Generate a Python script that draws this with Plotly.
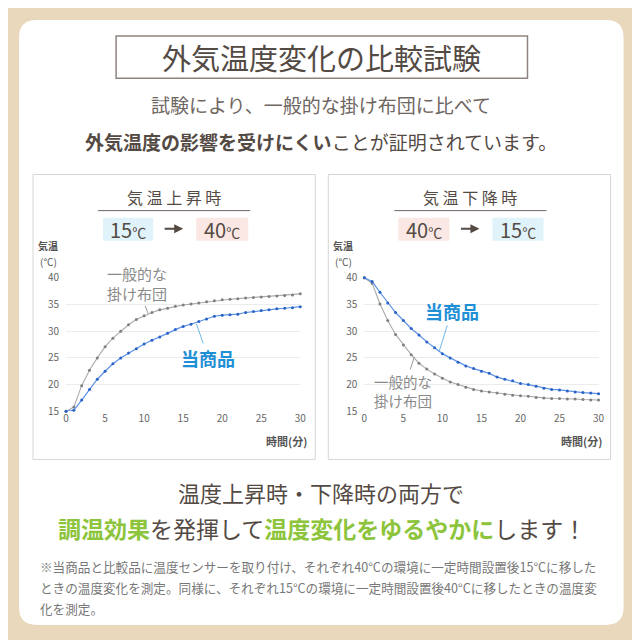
import plotly.graph_objects as go

W, H = 640, 640

# ── data ───────────────────────────────────────────────────────
minutes = list(range(31))

rise_normal = [15.0, 15.8, 19.8, 22.7, 25.0, 27.1, 28.7, 30.0, 31.2, 32.2,
               32.9, 33.5, 34.0, 34.3, 34.7, 34.9, 35.1, 35.3, 35.5, 35.7,
               35.9, 36.0, 36.1, 36.2, 36.3, 36.4, 36.5, 36.6, 36.7, 36.8, 37.0]
rise_ours = [15.0, 15.2, 17.1, 19.1, 21.0, 22.5, 23.9, 25.0, 25.9, 26.7,
             27.6, 28.3, 28.9, 29.6, 30.3, 30.9, 31.3, 31.8, 32.3, 32.8,
             33.0, 33.1, 33.2, 33.5, 33.7, 33.9, 34.0, 34.2, 34.3, 34.4, 34.6]

fall_normal = [40.0, 39.0, 35.1, 32.0, 29.4, 27.4, 25.6, 24.0, 22.9, 22.0,
               21.2, 20.5, 20.0, 19.5, 19.1, 18.8, 18.6, 18.4, 18.2, 18.0,
               17.9, 17.8, 17.6, 17.5, 17.4, 17.4, 17.3, 17.3, 17.2, 17.1, 17.1]
fall_ours = [40.0, 39.3, 37.3, 35.3, 33.5, 32.0, 30.5, 29.3, 28.0, 26.9,
             25.8, 25.0, 24.2, 23.5, 23.0, 22.5, 22.1, 21.4, 21.0, 20.7,
             20.2, 20.0, 19.7, 19.3, 19.1, 19.0, 18.8, 18.6, 18.5, 18.4, 18.3]

y_ticks = [15, 20, 25, 30, 35, 40]
x_ticks = [0, 5, 10, 15, 20, 25, 30]

NAME_OURS = "当商品"
NAME_NORMAL = "一般的な<br>掛け布団"

# ── colours / fonts ───────────────────────────────────────────
BG = "#EAD8BD"
TXT = "#544a44"
TXT_LIGHT = "#6e6661"
GREEN = "#8cc43c"
BLUE_TXT = "#1f8fd6"
BLUE_LINE = "#5d92e6"
BLUE_DOT = "#2a62c6"
GRAY_LINE = "#ababab"
GRAY_DOT = "#808080"
FONT = "Noto Sans CJK JP"


# page pixel -> paper coords (small correction for how the page is framed)
def px(x):
    return ((x - 10) / 0.985) / W


def py(y):
    return 1 - ((y - 16) / 0.975) / H


fig = go.Figure()

# ── traces ────────────────────────────────────────────────────
for xa, ya, normal, ours in [("x", "y", rise_normal, rise_ours),
                              ("x2", "y2", fall_normal, fall_ours)]:
    fig.add_trace(go.Scatter(
        x=minutes, y=normal, xaxis=xa, yaxis=ya, mode="lines+markers",
        line=dict(color=GRAY_LINE, width=1.1),
        marker=dict(color=GRAY_DOT, size=3), cliponaxis=False,
        showlegend=False, hoverinfo="skip"))
    fig.add_trace(go.Scatter(
        x=minutes, y=ours, xaxis=xa, yaxis=ya, mode="lines+markers",
        line=dict(color=BLUE_LINE, width=1.2),
        marker=dict(color=BLUE_DOT, size=3), cliponaxis=False,
        showlegend=False, hoverinfo="skip"))

axis_common = dict(showline=False, zeroline=False, ticks="",
                   tickfont=dict(family=FONT, size=10, color="#666"))
fig.update_layout(
    xaxis=dict(domain=[px(65), px(299)], range=[0, 30], tickvals=x_ticks,
               showgrid=False, anchor="y", **axis_common),
    yaxis=dict(domain=[py(410), py(277)], range=[15, 40], tickvals=y_ticks,
               showgrid=True, gridcolor="#ececec", gridwidth=1, anchor="x",
               ticklabelstandoff=6, **axis_common),
    xaxis2=dict(domain=[px(363), px(597)], range=[0, 30], tickvals=x_ticks,
                showgrid=False, anchor="y2", **axis_common),
    yaxis2=dict(domain=[py(410), py(277)], range=[15, 40], tickvals=y_ticks,
                showgrid=True, gridcolor="#ececec", gridwidth=1, anchor="x2",
                ticklabelstandoff=6, **axis_common),
)

shapes = []
ann = []

# white card with rounded corners
x0, x1, y0, y1 = px(18), px(622), py(20), py(623)
rx, ry = 18 / W, 18 / H
card = (f"M {x0 + rx},{y0} L {x1 - rx},{y0} Q {x1},{y0} {x1},{y0 - ry} "
        f"L {x1},{y1 + ry} Q {x1},{y1} {x1 - rx},{y1} L {x0 + rx},{y1} "
        f"Q {x0},{y1} {x0},{y1 + ry} L {x0},{y0 - ry} Q {x0},{y0} {x0 + rx},{y0} Z")
shapes.append(dict(type="path", path=card, xref="paper", yref="paper",
                   fillcolor="white", line=dict(width=0), layer="below"))

# title box
shapes.append(dict(type="rect", xref="paper", yref="paper",
                   x0=px(115), x1=px(526), y0=py(36), y1=py(78),
                   line=dict(color="#8d8480", width=1.5), layer="below"))
ann.append(dict(text="外気温度変化の比較試験", x=px(320), y=py(57),
                font=dict(size=29, color=TXT)))
ann.append(dict(text="試験により、一般的な掛け布団に比べて", x=px(320), y=py(104),
                font=dict(size=19, color=TXT_LIGHT)))
ann.append(dict(text="<b>外気温度の影響を受けにくい</b>ことが証明されています。",
                x=px(320), y=py(141), font=dict(size=19, color=TXT)))

# panels
panels = [
    dict(left=32, right=314, title="気 温 上 昇 時", cx=173, ul=(97, 249),
         boxes=[(102, 152, "15", "#e0f3fa"), (195, 247, "40", "#fbe8e4")], arrow=182),
    dict(left=327, right=609, title="気 温 下 降 時", cx=469, ul=(393, 545),
         boxes=[(397, 448, "40", "#fbe8e4"), (491, 542, "15", "#e0f3fa")], arrow=478),
]
for p in panels:
    shapes.append(dict(type="rect", xref="paper", yref="paper",
                       x0=px(p["left"]), x1=px(p["right"]), y0=py(174), y1=py(458),
                       line=dict(color="#d6d6d6", width=1), fillcolor="white",
                       layer="below"))
    ann.append(dict(text=p["title"], x=px(p["cx"]), y=py(196),
                    font=dict(size=16, color=TXT)))
    shapes.append(dict(type="line", xref="paper", yref="paper",
                       x0=px(p["ul"][0]), x1=px(p["ul"][1]), y0=py(210), y1=py(210),
                       line=dict(color="#6e6661", width=1)))
    for bx0, bx1, label, col in p["boxes"]:
        shapes.append(dict(type="rect", xref="paper", yref="paper",
                           x0=px(bx0), x1=px(bx1), y0=py(217), y1=py(240),
                           fillcolor=col, line=dict(width=0), layer="below"))
        ann.append(dict(text=f"{label}<span style='font-size:14px'>℃</span>",
                        x=px((bx0 + bx1) / 2), y=py(229),
                        font=dict(size=20, color=TXT)))
    # small arrow between the two temperatures
    ann.append(dict(text="", x=px(p["arrow"]), y=py(228), ax=-20, ay=0,
                    showarrow=True, arrowhead=2, arrowsize=0.9, arrowwidth=2,
                    arrowcolor=TXT))
    # axis titles
    ann.append(dict(text="<b>気温</b>", x=px(p["left"] + 15), y=py(245),
                    font=dict(size=10, color="#555"), borderpad=0))
    ann.append(dict(text="(°C)", x=px(p["left"] + 15), y=py(261),
                    font=dict(size=10, color="#555"), borderpad=0))
    ann.append(dict(text="<b>時間(分)</b>", x=px(p["left"] + 253), y=py(440),
                    font=dict(size=11, color="#555")))

# series callouts
callouts = [
    ("x", "y", NAME_NORMAL, 10.5, 33.3, 9.1, 38.9, "#8a8a8a", 15, False),
    ("x", "y", NAME_OURS, 16.7, 31.4, 18.2, 25.0, BLUE_TXT, 18, True),
    ("x2", "y2", NAME_OURS, 9.6, 26.3, 11.2, 33.8, BLUE_TXT, 18, True),
    ("x2", "y2", NAME_NORMAL, 6.4, 25.2, 5.0, 18.8, "#8a8a8a", 14.5, False),
]
for xr, yr, txt, x, y, tx, ty, col, size, bold in callouts:
    ann.append(dict(text=f"<b>{txt}</b>" if bold else txt, xref=xr, yref=yr,
                    x=x, y=y, ax=tx, ay=ty, axref=xr, ayref=yr,
                    showarrow=True, arrowhead=0, arrowwidth=1,
                    arrowcolor="#6fb8e8" if bold else "#999",
                    font=dict(size=size, color=col), align="center"))

# bottom message
ann.append(dict(text="温度上昇時・下降時の両方で", x=px(320), y=py(490),
                font=dict(size=22, color=TXT)))
g = lambda s: f"<span style='color:{GREEN}'><b>{s}</b></span>"
ann.append(dict(text=f"{g('調温効果')}を発揮して{g('温度変化をゆるやかに')}します！",
                x=px(321), y=py(526), font=dict(size=23, color=TXT)))

notes = [
    "※当商品と比較品に温度センサーを取り付け、それぞれ40°Cの環境に一定時間設置後15°Cに移した",
    "ときの温度変化を測定。同様に、それぞれ15°Cの環境に一定時間設置後40°Cに移したときの温度変",
    "化を測定。",
]
for i, line in enumerate(notes):
    ann.append(dict(text=line, x=px(37), y=py(565 + 21 * i), xanchor="left",
                    font=dict(size=12.6, color="#777")))

for a in ann:
    a.setdefault("xref", "paper")
    a.setdefault("yref", "paper")
    a.setdefault("showarrow", False)
    a.setdefault("xanchor", "center")
    a.setdefault("yanchor", "middle")
    a["font"] = dict(a.get("font", {}))
    a["font"].setdefault("family", FONT)

fig.update_layout(
    width=W, height=H,
    margin=dict(l=0, r=0, t=0, b=0),
    paper_bgcolor=BG,
    plot_bgcolor="rgba(0,0,0,0)",
    shapes=shapes,
    annotations=ann,
    font=dict(family=FONT),
)

fig.write_html("out.html")
